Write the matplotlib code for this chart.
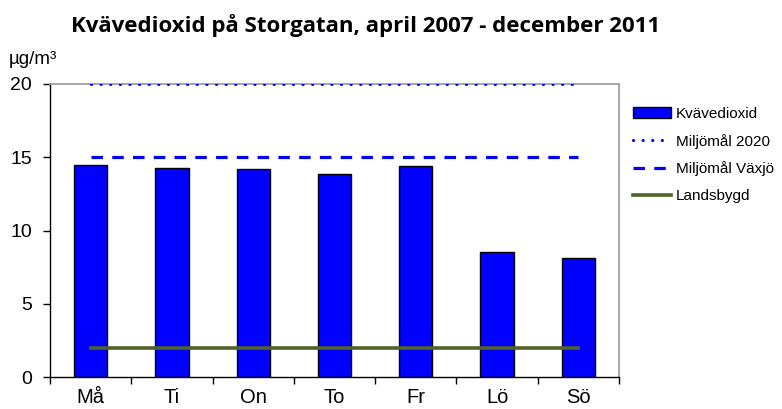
import matplotlib
matplotlib.use("Agg")
import matplotlib.pyplot as plt
from matplotlib.lines import Line2D
from matplotlib.patches import Patch
import numpy as np

plt.rcParams["font.family"] = ["Liberation Sans", "DejaVu Sans"]

# data
days = ["Må", "Ti", "On", "To", "Fr", "Lö", "Sö"]
no2 = [14.5, 14.3, 14.2, 13.85, 14.4, 8.55, 8.1]
miljomal_2020 = [20] * 7
miljomal_vaxjo = [15] * 7
landsbygd = [2] * 7

BLUE = "#0000FF"
OLIVE = "#4F6228"
GREY = "#A0A0A0"
DOT = (0, (0.01, 3.0))
DASH = (0, (3.6, 2.9))

fig = plt.figure(figsize=(7.82, 4.09), dpi=100)
ax = fig.add_axes([50 / 782, 32 / 409, 569 / 782, 293 / 409])

x = np.arange(len(days))
ax.bar(x, no2, width=0.41, color=BLUE, edgecolor="black", linewidth=1, zorder=2)
ax.plot(x, miljomal_2020, color=BLUE, lw=2.3, ls=DOT, dash_capstyle="round", zorder=3)
ax.plot(x, miljomal_vaxjo, color=BLUE, lw=2.3, ls=DASH, zorder=3)
ax.plot(x, landsbygd, color=OLIVE, lw=2.6, zorder=3)

ax.set_xlim(-0.5, len(days) - 0.5)
ax.set_ylim(0, 20)
ax.set_yticks([0, 5, 10, 15, 20])

# kategorietiketter mellan strecken
ax.set_xticks(np.arange(len(days) + 1) - 0.5)
ax.set_xticklabels([])
ax.set_xticks(x, minor=True)
ax.set_xticklabels(days, minor=True)
ax.tick_params(axis="x", which="major", direction="out", length=5, width=1)
ax.tick_params(axis="x", which="minor", length=0, pad=8, labelsize=14.5)
ax.tick_params(axis="y", direction="out", length=5, width=1, labelsize=14, pad=8)

for s in ["top", "right"]:
    ax.spines[s].set_color(GREY)
    ax.spines[s].set_linewidth(1.3)
for s in ["left", "bottom"]:
    ax.spines[s].set_color("black")
    ax.spines[s].set_linewidth(1)

fig.text(9 / 782, 1 - 60 / 409, "µg/m³", fontsize=13.5, ha="left", va="center")
fig.text(366 / 782, 1 - 26 / 409, "Kvävedioxid på Storgatan, april 2007 - december 2011",
         fontsize=16, fontweight="bold", ha="center", va="center",
         family=["Open Sans", "DejaVu Sans"])

handles = [
    Patch(facecolor=BLUE, edgecolor="black", linewidth=1),
    Line2D([], [], color=BLUE, lw=2.3, ls=DOT, dash_capstyle="round"),
    Line2D([], [], color=BLUE, lw=2.3, ls=DASH),
    Line2D([], [], color=OLIVE, lw=2.6),
]
labels = ["Kvävedioxid", "Miljömål 2020", "Miljömål Växjö", "Landsbygd"]
fig.legend(handles, labels, loc="upper left", bbox_to_anchor=(633 / 782, 1 - 107 / 409),
           frameon=False, fontsize=11, handlelength=2.5, handletextpad=0.33,
           labelspacing=0.83, borderaxespad=0, borderpad=0)

fig.savefig("out.png", dpi=100)
